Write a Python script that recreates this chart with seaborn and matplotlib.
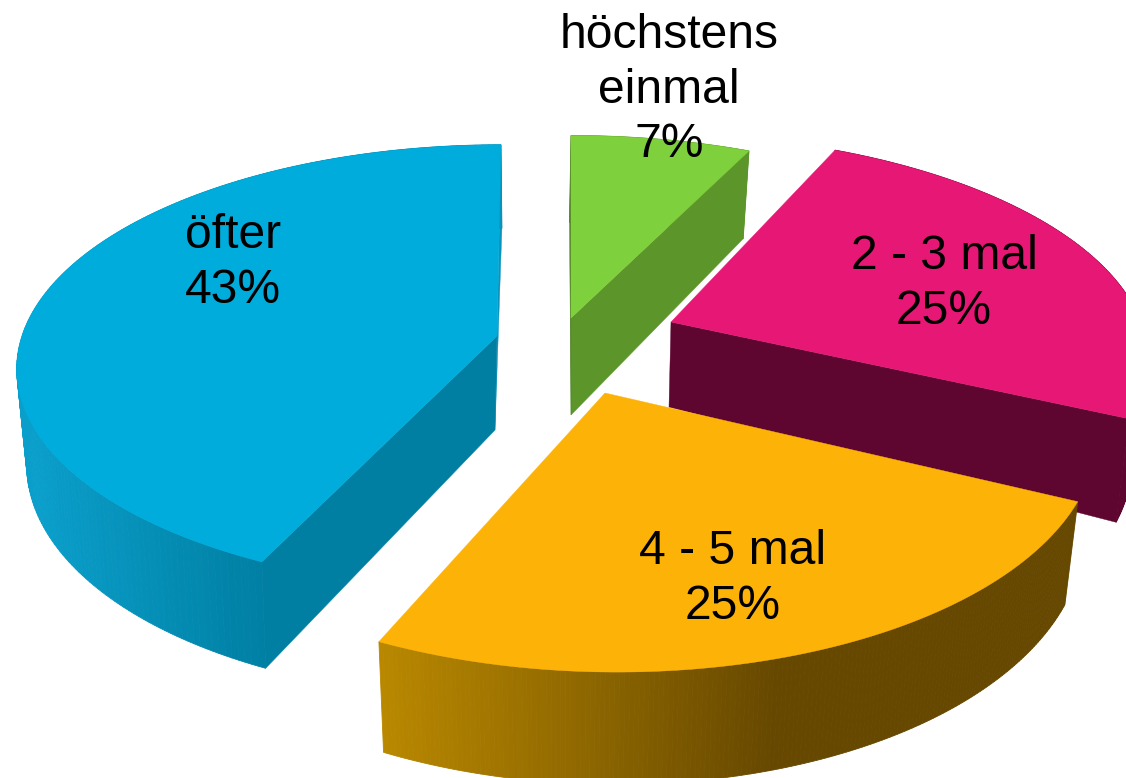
# Explodierte 3D-Torte: Flaechen werden aus den Anteilen berechnet
import numpy as np
import seaborn as sns
import matplotlib.pyplot as plt

sns.set_theme(style="white")
plt.rcParams['font.family'] = ['Liberation Sans', 'DejaVu Sans']

# Daten
categories = ["höchstens\neinmal", "2 - 3 mal", "4 - 5 mal", "öfter"]
shares = [7, 25, 25, 43]

# Farben
top_colors = ["#7ed13c", "#e71775", "#fdb207", "#00acdc"]
start_colors = ["#4f8224", "#5e0530", "#664800", "#007fa3"]
end_colors = ["#5c9529", "#5e0530", "#664800", "#0a93bb"]
side_from = ["#5c9529", "#5e0530", "#b98800", "#0a9fcb"]
side_to = ["#5c9529", "#5e0530", "#664800", "#007fa3"]
side_range = [(570, 750), (670, 1120), (381, 775), (30, 262)]

# Position jedes Stuecks in Pixeln
apex_x = [571, 671, 605, 497]
apex_y = [318, 322, 393, 336]
radius_x = [471, 470, 486, 475]
radius_y = [208, 214, 240, 218]
skew = [0, -15, -12, 4]
base_x = [571, 669, 604, 495]
base_y = [415, 407, 490, 430]
scale_y = [1.055, 1.19, 1.055, 1.055]
lean = [-1.5, 0, 0, 3]
show_start = [True, False, False, True]
show_end = [True, True, False, True]
label_x = [669, 944, 733, 233]
label_y = [90, 284, 579, 263]
draw_order = [1, 0, 2, 3]

PERSPECTIVE = 0.14
SCALE_X = 0.975


def top_point(i, angle):
    # Winkel im Uhrzeigersinn von oben
    u, v = np.sin(angle), np.cos(angle)
    p = 1 / (1 + PERSPECTIVE * v)
    return apex_x[i] + radius_x[i] * u * p + skew[i] * v, apex_y[i] - radius_y[i] * v * p


def base_point(i, angle):
    x, y = top_point(i, angle)
    bx = base_x[i] + SCALE_X * (x - apex_x[i]) + lean[i] * np.maximum(np.cos(angle), 0)
    by = base_y[i] + scale_y[i] * (y - apex_y[i])
    return bx, by


edges = np.radians(np.cumsum([0] + shares) * 3.6)

fig, ax = plt.subplots(figsize=(11.26, 7.78), dpi=100)
fig.subplots_adjust(0, 0, 1, 1)
ax.set_xlim(0, 1126)
ax.set_ylim(778, 0)
ax.axis("off")

for i in draw_order:
    a0, a1 = edges[i], edges[i + 1]
    angles = np.linspace(a0, a1, 181)
    tx, ty = top_point(i, angles)
    bx, by = base_point(i, angles)

    # Aussenwand mit Verlauf
    palette = sns.blend_palette([side_from[i], side_to[i]], 256)
    for k in range(len(angles) - 1):
        mid = (tx[k] + tx[k + 1]) / 2
        shade = np.interp(mid, side_range[i], [0, 255])
        ax.fill([tx[k], tx[k + 1], bx[k + 1], bx[k]],
                [ty[k], ty[k + 1], by[k + 1], by[k]],
                color=palette[int(shade)], lw=0.6)

    # Schnittflaechen
    if show_end[i]:
        sx, sy = top_point(i, a1)
        ex, ey = base_point(i, a1)
        ax.fill([apex_x[i], sx, ex, base_x[i]], [apex_y[i], sy, ey, base_y[i]],
                color=end_colors[i], lw=0.3)
    if show_start[i]:
        sx, sy = top_point(i, a0)
        ex, ey = base_point(i, a0)
        ax.fill([apex_x[i], sx, ex, base_x[i]], [apex_y[i], sy, ey, base_y[i]],
                color=start_colors[i], lw=0.3)

    # Deckel
    ax.fill(np.r_[apex_x[i], tx], np.r_[apex_y[i], ty], color=top_colors[i], lw=0.3)

for i in draw_order:
    ax.text(label_x[i], label_y[i], f"{categories[i]}\n{shares[i]}%", color="black",
            fontsize=34.6, ha="center", va="center", linespacing=1.26)

fig.savefig("out.png", dpi=100)
